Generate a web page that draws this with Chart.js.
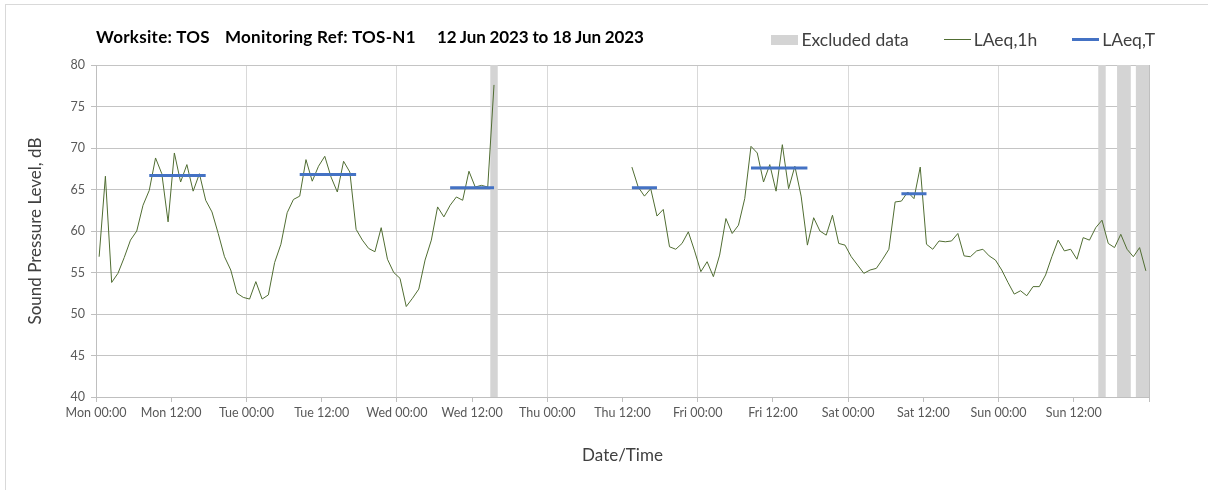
<!DOCTYPE html>
<html>
<head>
<meta charset="utf-8">
<title>TOS-N1 noise monitoring</title>
<script src="https://cdn.jsdelivr.net/npm/chart.js@4.4.0/dist/chart.umd.min.js"></script>
<style>
    body { margin: 0; background: #fff; font-family: Lato, 'Open Sans', sans-serif; }
    #wrap { position: relative; width: 1208px; height: 490px; overflow: hidden; }
    #frame { position: absolute; left: 5px; top: 4px; width: 1300px; height: 600px; border: 1px solid #d9d9d9; }
    #noise-chart { position: absolute; left: 0; top: 0; }
    #chart-title { position: absolute; left: 96px; top: 26px; font-size: 17px; font-weight: bold; letter-spacing: 0.3px; color: #000; white-space: nowrap; }
    #chart-title .gap1 { margin-left: 15px; }
    #chart-title .gap2 { margin-left: 21px; letter-spacing: -0.15px; }
    #legend { position: absolute; right: 53px; top: 29px; display: flex; align-items: center; font-size: 17.5px; color: #404040; }
    #legend .item { display: flex; align-items: center; margin-left: 35px; }
    #legend .swatch { display: inline-block; width: 27px; margin-right: 3px; }
</style>
</head>
<body>
<div id="wrap">
    <div id="frame"></div>
    <canvas id="noise-chart" width="1208" height="490"></canvas>
    <div id="chart-title"><span>Worksite: TOS</span><span class="gap1">Monitoring Ref: TOS-N1</span><span class="gap2">12 Jun 2023 to 18 Jun 2023</span></div>
    <div id="legend"></div>
</div>
<script>
// Week axis: hours from Mon 00:00
const dayNames = ['Mon', 'Tue', 'Wed', 'Thu', 'Fri', 'Sat', 'Sun'];
const weekHours = 168;

// LAeq,1h readings, one per hour (null = no data)
const laeq1h = [
    56.9, 66.6, 53.8, 54.9, 56.8, 58.9, 60.0, 63.1, 64.9, 68.8, 66.9, 61.1,
    69.4, 65.9, 68.0, 64.8, 66.9, 63.7, 62.3, 59.7, 56.9, 55.3, 52.5, 52.0,
    51.8, 53.9, 51.8, 52.3, 56.2, 58.4, 62.2, 63.8, 64.2, 68.6, 66.0, 67.8,
    69.0, 66.5, 64.7, 68.4, 67.1, 60.2, 58.9, 57.9, 57.5, 60.4, 56.6, 55.0,
    54.3, 50.9, 51.9, 53.0, 56.5, 58.9, 62.9, 61.7, 63.1, 64.1, 63.7, 67.2,
    65.3, 65.5, 65.3, 77.6, null, null, null, null, null, null, null, null,
    null, null, null, null, null, null, null, null, null, null, null, null,
    null, 67.7, 65.3, 64.2, 65.1, 61.8, 62.6, 58.1, 57.8, 58.5, 59.9, 57.6,
    55.1, 56.3, 54.5, 57.1, 61.5, 59.7, 60.7, 63.9, 70.2, 69.4, 65.9, 68.0,
    64.8, 70.4, 65.1, 67.8, 64.2, 58.3, 61.6, 60.0, 59.5, 61.9, 58.5, 58.3,
    56.9, 55.9, 54.9, 55.3, 55.5, 56.6, 57.8, 63.5, 63.6, 64.7, 63.9, 67.7,
    58.4, 57.8, 58.8, 58.7, 58.8, 59.7, 57.0, 56.9, 57.6, 57.8, 57.0, 56.5,
    55.3, 53.8, 52.4, 52.8, 52.2, 53.3, 53.3, 54.7, 56.9, 58.9, 57.6, 57.8,
    56.6, 59.2, 58.9, 60.4, 61.3, 58.5, 58.0, 59.6, 57.8, 56.9, 58.0, 55.2
];

// LAeq,T for each daytime period (first and last hour covered)
const periodStart = [8, 32, 56, 85, 104, 128];
const periodEnd = [17, 41, 63, 89, 113, 132];
const laeqT = [66.7, 66.8, 65.2, 65.2, 67.6, 64.5];

// Hours flagged as excluded data
const excludedHours = [63, 160, 163, 164, 166, 167];

// Y axis range
const yMin = 40;
const yMax = 80;
const yStep = 5;

// hourly values are plotted in the middle of their hour
function hourPoints(values) {
    return values.map(function(v, i) {
        return { x: i + 0.5, y: v };
    });
}

// one short line per period, separated by a null point
function periodPoints() {
    let pts = [];
    laeqT.forEach(function(v, i) {
        pts.push({ x: periodStart[i] + 0.5, y: v });
        pts.push({ x: periodEnd[i] + 0.5, y: v });
        pts.push({ x: periodEnd[i] + 0.5, y: null });
    });
    return pts;
}

function excludedBars() {
    return excludedHours.map(function(h) {
        return { x: h + 0.5, y: [yMin, yMax] };
    });
}

function tickLabel(value) {
    if (value >= weekHours) return '';
    let hh = String(value % 24).padStart(2, '0');
    return dayNames[Math.floor(value / 24)] + ' ' + hh + ':00';
}

const ctx = document.getElementById('noise-chart').getContext('2d');
const noiseChart = new Chart(ctx, {
    type: 'line',
    data: {
        datasets: [{
            type: 'bar',
            label: 'Excluded data',
            data: excludedBars(),
            backgroundColor: '#d4d4d4',
            borderWidth: 0,
            inflateAmount: 0.6,
            barPercentage: 1,
            categoryPercentage: 1,
            grouped: false,
            order: 3
        }, {
            label: 'LAeq,1h',
            data: hourPoints(laeq1h),
            borderColor: '#506d32',
            borderWidth: 1,
            pointRadius: 0,
            tension: 0,
            spanGaps: false,
            order: 2
        }, {
            label: 'LAeq,T',
            data: periodPoints(),
            borderColor: '#4472c4',
            borderWidth: 3,
            borderCapStyle: 'butt',
            pointRadius: 0,
            spanGaps: false,
            order: 1
        }]
    },
    options: {
        responsive: false,
        animation: false,
        layout: { padding: { top: 65, right: 59, left: 0, bottom: 0 } },
        plugins: {
            legend: { display: false },
            tooltip: { enabled: false }
        },
        scales: {
            x: {
                type: 'linear',
                min: 0,
                max: weekHours,
                offset: false,
                afterFit: function(scale) { scale.height = 93; },
                border: { color: '#bfbfbf' },
                grid: {
                    offset: false,
                    color: function(c) {
                        if (c.tick.value === weekHours) return '#bfbfbf';
                        return c.tick.value % 24 === 0 ? '#d9d9d9' : 'rgba(0,0,0,0)';
                    },
                    tickColor: '#bfbfbf',
                    tickLength: 5
                },
                ticks: {
                    stepSize: 12,
                    autoSkip: false,
                    maxRotation: 0,
                    padding: 3,
                    color: '#595959',
                    font: { family: 'Lato', size: 12.5 },
                    callback: tickLabel
                },
                title: {
                    display: true,
                    text: 'Date/Time',
                    color: '#404040',
                    font: { family: 'Lato', size: 17 },
                    padding: { top: 0, bottom: 24 }
                }
            },
            y: {
                min: yMin,
                max: yMax,
                afterFit: function(scale) { scale.width = 96; },
                border: { color: '#bfbfbf' },
                grid: {
                    color: '#c4c4c4',
                    tickColor: '#bfbfbf',
                    tickLength: 5
                },
                ticks: {
                    stepSize: yStep,
                    padding: 6,
                    color: '#595959',
                    font: { family: 'Lato', size: 12.5 }
                },
                title: {
                    display: true,
                    text: 'Sound Pressure Level, dB',
                    color: '#404040',
                    font: { family: 'Lato', size: 17 },
                    padding: { top: 25, bottom: 0 }
                }
            }
        }
    }
});

// Legend built from the chart's own datasets
function buildLegend(chart) {
    const legend = document.getElementById('legend');
    chart.data.datasets.forEach(function(ds) {
        const item = document.createElement('div');
        item.className = 'item';
        const swatch = document.createElement('span');
        swatch.className = 'swatch';
        if (ds.type === 'bar') {
            swatch.style.height = '10px';
            swatch.style.background = ds.backgroundColor;
        } else {
            swatch.style.height = ds.borderWidth + 'px';
            swatch.style.background = ds.borderColor;
        }
        const text = document.createElement('span');
        text.textContent = ds.label;
        item.appendChild(swatch);
        item.appendChild(text);
        legend.appendChild(item);
    });
}

buildLegend(noiseChart);
</script>
</body>
</html>
